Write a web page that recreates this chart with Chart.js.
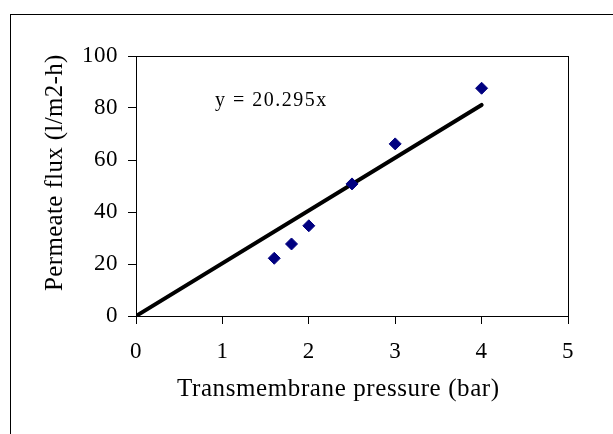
<!DOCTYPE html>
<html>
<head>
<meta charset="utf-8">
<script src="https://cdn.jsdelivr.net/npm/chart.js@4/dist/chart.umd.min.js"></script>
<style>
  html, body { margin: 0; padding: 0; background: #fff; overflow: hidden; }
  #wrap { position: relative; width: 613px; height: 434px; overflow: hidden; background: #fff; }
  #frame { position: absolute; left: 10px; top: 14px; width: 700px; height: 500px; border: 1px solid #000; box-sizing: border-box; }
  #c { position: absolute; left: 0; top: 0; }
</style>
</head>
<body>
<div id="wrap">
  <div id="frame"></div>
  <canvas id="c" width="613" height="434"></canvas>
</div>
<script>
// ---- data ----
const pressures = [1.6, 1.8, 2.0, 2.5, 3.0, 4.0];          // bar
const fluxes = [22.2, 27.7, 34.7, 50.8, 66.2, 87.6];        // l/m2-h
const trendSlope = 20.295;                                   // y = 20.295x
const trendX = [0, 4];
const xTicks = [0, 1, 2, 3, 4, 5];
const yTicks = [0, 20, 40, 60, 80, 100];
const xTitle = 'Transmembrane pressure (bar)';
const yTitle = 'Permeate flux (l/m2-h)';
const equationText = 'y = 20.295x';
const equationAt = [0.914, 80.6];   // data position of equation label

const trendData = trendX.map(x => ({ x: x, y: trendSlope * x }));
const pointData = pressures.map((x, i) => ({ x: x, y: fluxes[i] }));

const FONT = "'Liberation Serif', 'Times New Roman', serif";

const decor = {
  id: 'decor',
  beforeDraw(chart) {
    chart.ctx.letterSpacing = '0.5px';
  },
  afterDraw(chart) {
    const ctx = chart.ctx;
    const a = chart.chartArea;
    const xs = chart.scales.x, ys = chart.scales.y;
    ctx.save();
    // plot box
    ctx.strokeStyle = '#000';
    ctx.lineWidth = 1;
    ctx.strokeRect(Math.round(a.left) + 0.5, Math.round(a.top) + 0.5, Math.round(a.right - a.left), Math.round(a.bottom - a.top));
    ctx.fillStyle = '#000';
    // equation
    ctx.font = "20px " + FONT;
    ctx.letterSpacing = '1.5px';
    ctx.textAlign = 'left';
    ctx.textBaseline = 'alphabetic';
    ctx.fillText(equationText, xs.getPixelForValue(equationAt[0]), ys.getPixelForValue(equationAt[1]));
    // x title
    ctx.font = "25px " + FONT;
    ctx.letterSpacing = '0.6px';
    ctx.fillText(xTitle, 177, 396);
    // y title
    ctx.letterSpacing = '0.35px';
    ctx.translate(62, 291);
    ctx.rotate(-Math.PI / 2);
    ctx.fillText(yTitle, 0, 0);
    ctx.restore();
    ctx.letterSpacing = '0px';
  }
};

new Chart(document.getElementById('c'), {
  type: 'scatter',
  data: {
    datasets: [
      {
        label: 'Linear trend',
        type: 'line',
        data: trendData,
        borderColor: '#000',
        borderWidth: 4,
        borderCapStyle: 'round',
        pointRadius: 0,
        fill: false,
        tension: 0,
        order: 2
      },
      {
        label: 'Permeate flux',
        data: pointData,
        pointStyle: 'rectRot',
        pointRadius: 6,
        pointHoverRadius: 6,
        backgroundColor: '#000080',
        borderColor: '#000080',
        borderWidth: 1,
        order: 1
      }
    ]
  },
  options: {
    responsive: false,
    animation: false,
    events: [],
    layout: { padding: { left: 0, top: 56, right: 45, bottom: 0 } },
    plugins: { legend: { display: false }, tooltip: { enabled: false } },
    scales: {
      x: {
        type: 'linear',
        min: 0, max: 5,
        afterBuildTicks(scale) { scale.ticks = xTicks.map(v => ({ value: v })); },
        afterFit(scale) { scale.height = 118; },
        ticks: { color: '#000', font: { family: FONT, size: 23 }, padding: 14 },
        grid: { drawOnChartArea: false, drawTicks: true, tickLength: 8, color: '#000', lineWidth: 1 },
        border: { display: true, color: '#000', width: 1 }
      },
      y: {
        type: 'linear',
        min: 0, max: 100,
        afterBuildTicks(scale) { scale.ticks = yTicks.map(v => ({ value: v })); },
        afterFit(scale) { scale.width = 136; },
        ticks: { color: '#000', font: { family: FONT, size: 23 }, padding: 10 },
        grid: { drawOnChartArea: false, drawTicks: true, tickLength: 8, color: '#000', lineWidth: 1 },
        border: { display: true, color: '#000', width: 1 }
      }
    }
  },
  plugins: [decor]
});
</script>
</body>
</html>
